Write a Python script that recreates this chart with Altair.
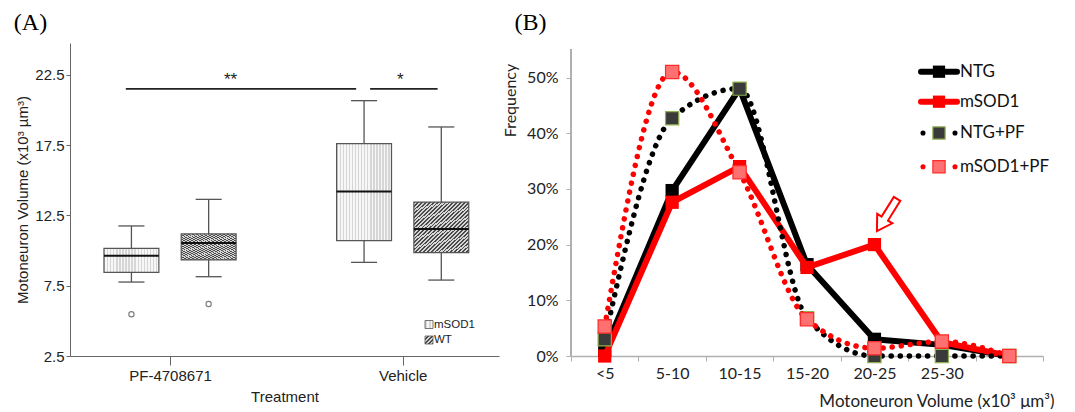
import altair as alt
import pandas as pd

# ---------------- Panel A data (box plot statistics, x10^3 um^3) ----------------
treatments = ["PF-4708671", "PF-4708671", "Vehicle", "Vehicle"]
genotypes = ["mSOD1", "WT", "mSOD1", "WT"]
whisker_low = [7.76, 8.14, 9.16, 7.90]
q1 = [8.45, 9.33, 10.70, 9.85]
median = [9.63, 10.54, 14.20, 11.53]
q3 = [10.16, 11.18, 17.60, 13.45]
whisker_high = [11.75, 13.64, 20.66, 18.79]
outlier_treatment = ["PF-4708671", "PF-4708671"]
outlier_genotype = ["mSOD1", "WT"]
outlier_value = [5.47, 6.20]
sig_labels = ["**", "*"]
sig_start = [0.81, 1.86]
sig_end = [1.80, 2.15]
sig_level = [21.5, 21.5]
sig_label_x = [1.26, 1.99]
sig_label_y = [22.15, 22.15]
a_ticks = [2.5, 7.5, 12.5, 17.5, 22.5]

# ---------------- Panel B data (frequency, %) ----------------
size_bins = ["<5", "5-10", "10-15", "15-20", "20-25", "25-30", ">30"]
ntg = [1.0, 29.7, 48.0, 16.4, 3.0, 2.0, 0.0]
msod1 = [0.0, 27.6, 34.0, 15.9, 20.0, 2.5, 0.0]
ntg_pf = [3.0, 42.7, 48.0, 6.8, 0.0, 0.0, 0.0]
msod1_pf = [5.3, 51.0, 33.0, 6.6, 1.4, 2.6, 0.0]
series_names = ["NTG", "mSOD1", "NTG+PF", "mSOD1+PF"]
b_ticks = [0, 0.1, 0.2, 0.3, 0.4, 0.5]

# ---------------- layout helpers ----------------
treat_pos = {"PF-4708671": 1.0, "Vehicle": 2.0}
geno_off = {"mSOD1": -0.166, "WT": 0.166}
BOX_HALF = 0.118
CAP_HALF = 0.056

A_W, A_H = 429, 313
B_W, B_H = 472, 313


def stripes(c1, c2, n, x2, y2, frac=0.5):
    stops = []
    for i in range(n):
        a, b, c = i / n, (i + frac) / n, (i + 1) / n
        stops += [{"offset": a, "color": c1}, {"offset": b, "color": c1},
                  {"offset": b, "color": c2}, {"offset": c, "color": c2}]
    return {"gradient": "linear", "x1": 0, "y1": 0, "x2": x2, "y2": y2, "stops": stops}


fills = {
    "mSOD1": stripes("#d6d6d6", "#f7f7f7", 18, 1, 0, 0.45),
    "WT": stripes("#4a4a4a", "#d6d6d6", 28, 1, 1, 0.45),
}

box = pd.DataFrame({
    "treatment": treatments, "genotype": genotypes,
    "lo": whisker_low, "q1": q1, "med": median, "q3": q3, "hi": whisker_high,
})
box["xc"] = [treat_pos[t] + geno_off[g] for t, g in zip(box.treatment, box.genotype)]
box["xl"] = box.xc - BOX_HALF
box["xr"] = box.xc + BOX_HALF
box["cl"] = box.xc - CAP_HALF
box["cr"] = box.xc + CAP_HALF

out = pd.DataFrame({"treatment": outlier_treatment, "genotype": outlier_genotype, "v": outlier_value})
out["xc"] = [treat_pos[t] + geno_off[g] for t, g in zip(out.treatment, out.genotype)]

sig = pd.DataFrame({"label": sig_labels, "x1": sig_start, "x2": sig_end, "y": sig_level,
                    "lx": sig_label_x, "ly": sig_label_y})

xdom = [0.570, 2.414]
ydom = [2.5, 2.5 + A_H / 14.06]
xs = alt.Scale(domain=xdom, nice=False, zero=False)
ys = alt.Scale(domain=ydom, nice=False, zero=False)

label_expr = " : ".join(
    [f"datum.value == {treat_pos[t]} ? '{t}'" for t in dict.fromkeys(treatments)][:-1]
) + f" : '{list(dict.fromkeys(treatments))[-1]}'"

FA = "Liberation Sans"
x_axis_a = alt.Axis(values=[1, 2], labelExpr=label_expr, title="Treatment", tickSize=9,
                    labelFont=FA, titleFont=FA, labelFontSize=15, titleFontSize=15,
                    titleFontWeight="normal", labelColor="#222", titleColor="#222",
                    domainColor="#666", tickColor="#666", labelPadding=3, titlePadding=6,
                    grid=False)
y_axis_a = alt.Axis(values=a_ticks, format=".1f", title="Motoneuron Volume (x10³ µm³)", tickSize=4,
                    labelFont=FA, titleFont=FA, labelFontSize=15, titleFontSize=15,
                    titleFontWeight="normal", labelColor="#222", titleColor="#222",
                    domainColor="#666", tickColor="#666", labelPadding=2, titlePadding=4,
                    grid=False)

baseA = alt.Chart(box)
whisk = baseA.mark_rule(color="#555", strokeWidth=1.3).encode(
    x=alt.X("xc:Q", scale=xs, axis=x_axis_a), y=alt.Y("lo:Q", scale=ys, axis=y_axis_a), y2="hi:Q")
cap_hi = baseA.mark_rule(color="#555", strokeWidth=1.3).encode(x="cl:Q", x2="cr:Q", y="hi:Q")
cap_lo = baseA.mark_rule(color="#555", strokeWidth=1.3).encode(x="cl:Q", x2="cr:Q", y="lo:Q")
boxes = [
    baseA.transform_filter(alt.datum.genotype == g).mark_rect(fill=fills[g], stroke="#555", strokeWidth=1.2)
    .encode(x="xl:Q", x2="xr:Q", y="q1:Q", y2="q3:Q")
    for g in ["mSOD1", "WT"]
]
med = baseA.mark_rule(color="#111", strokeWidth=2).encode(x="xl:Q", x2="xr:Q", y="med:Q")
outs = alt.Chart(out).mark_point(shape="circle", size=28, color="#444", strokeWidth=1.1).encode(
    x="xc:Q", y="v:Q")
sig_lines = alt.Chart(sig).mark_rule(color="#222", strokeWidth=1.6).encode(x="x1:Q", x2="x2:Q", y="y:Q")
sig_text = alt.Chart(sig).mark_text(font=FA, fontSize=17, color="#222", baseline="middle").encode(
    x="lx:Q", y="ly:Q", text="label:N")

# panel A legend (pixel positions inside plot area)
legA = pd.DataFrame({"label": ["mSOD1", "WT"], "px": [359, 359], "py": [281.5, 297]})
legA_sq = [
    alt.Chart(legA).transform_filter(alt.datum.label == g).mark_square(size=64, fill=fills[g], stroke="#555",
                                                                         strokeWidth=0.8, opacity=1)
    .encode(x=alt.X("px:Q", scale=None), y=alt.Y("py:Q", scale=None))
    for g in ["mSOD1", "WT"]
]
legA_tx = alt.Chart(legA).mark_text(font=FA, fontSize=11.5, align="left", baseline="middle", color="#222").encode(
    x=alt.X("px:Q", scale=None), y=alt.Y("py:Q", scale=None), text="label:N", xOffset=alt.value(5))

chartA = alt.layer(whisk, cap_hi, cap_lo, *boxes, med, outs, sig_lines, sig_text, *legA_sq, legA_tx).properties(
    width=A_W, height=A_H,
    title=alt.TitleParams("(A)", anchor="start", font="Liberation Serif", fontSize=24,
                          fontWeight="normal", color="#000", offset=8, dx=-2),
)

# ---------------- Panel B ----------------
vals = {"NTG": ntg, "mSOD1": msod1, "NTG+PF": ntg_pf, "mSOD1+PF": msod1_pf}
rows = []
for s in series_names:
    for b, v in zip(size_bins, vals[s]):
        rows.append({"series": s, "bin": b, "freq": v / 100})
freq = pd.DataFrame(rows)

line_col = {"NTG": "#000000", "mSOD1": "#ff0000", "NTG+PF": "#000000", "mSOD1+PF": "#ff0000"}
mk_fill = {"NTG": "#000000", "mSOD1": "#ff0000", "NTG+PF": "#3a3a3a", "mSOD1+PF": "#ff7070"}
mk_stroke = {"NTG": "#000000", "mSOD1": "#ff0000", "NTG+PF": "#8fb04f", "mSOD1+PF": "#ff2a2a"}
dotted = {"NTG": False, "mSOD1": False, "NTG+PF": True, "mSOD1+PF": True}

FB = "Lato"
bxs = alt.Scale(domain=size_bins, paddingInner=0, paddingOuter=0)
bys = alt.Scale(domain=[0, B_H / 557], nice=False, zero=True)
x_axis_b = alt.Axis(title="Motoneuron Volume (x10³ μm³)", tickBand="extent", tickSize=5,
                    labelExpr="datum.value == '>30' ? '' : datum.value", labelAngle=0,
                    labelFont=FB, titleFont=FB, labelFontSize=16, titleFontSize=17,
                    titleFontWeight="normal", labelColor="#222", titleColor="#222",
                    domainColor="#b0b0b0", tickColor="#b0b0b0", domainWidth=1.3, labelPadding=4,
                    titleAlign="right", titleAnchor="end", titleX=B_W + 11, titleY=45,
                    titleBaseline="middle", grid=False)
y_axis_b = alt.Axis(values=b_ticks, format=".0%", title="Frequency", tickSize=5, domain=False,
                    labelFont=FB, titleFont=FB, labelFontSize=16, titleFontSize=16,
                    titleFontWeight="normal", labelColor="#222", titleColor="#222",
                    tickColor="#b0b0b0", labelPadding=8, titlePadding=8,
                    titleY=57, titleAlign="center", grid=False)

layersB = [
    alt.Chart(freq).mark_rule(color="#b0b0b0", strokeWidth=1.3).encode(
        x=alt.value(0), y=alt.datum(0, scale=bys, axis=y_axis_b), y2=alt.datum(0.55))
]
for s in series_names:
    d = alt.Chart(freq).transform_filter(alt.datum.series == s)
    if dotted[s]:
        ln = d.mark_line(color=line_col[s], strokeWidth=5.5, strokeDash=[0.1, 9], strokeCap="round",
                         interpolate="monotone")
    else:
        ln = d.mark_line(color=line_col[s], strokeWidth=6, strokeJoin="miter")
    layersB.append(ln.encode(x=alt.X("bin:N", scale=bxs, axis=x_axis_b, sort=size_bins),
                             y=alt.Y("freq:Q", scale=bys, axis=y_axis_b)))
    layersB.append(d.mark_square(size=175, fill=mk_fill[s], stroke=mk_stroke[s],
                                 strokeWidth=1.2 if dotted[s] else 0, opacity=1).encode(
        x=alt.X("bin:N", scale=bxs, sort=size_bins), y=alt.Y("freq:Q", scale=bys)))

# legend for panel B (pixel positions inside the plot area)
legB = pd.DataFrame({"label": series_names, "py": [28.7, 58.7, 90, 123.7]})
legB["x0"], legB["x1"], legB["xm"], legB["tx"] = 350, 386, 368, 389
for s in series_names:
    d = alt.Chart(legB).transform_filter(alt.datum.label == s)
    if dotted[s]:
        layersB.append(d.mark_circle(size=26, color=line_col[s], opacity=1).encode(
            x=alt.X("x0:Q", scale=None), y=alt.Y("py:Q", scale=None), xOffset=alt.value(2)))
        layersB.append(d.mark_circle(size=26, color=line_col[s], opacity=1).encode(
            x=alt.X("x1:Q", scale=None), y=alt.Y("py:Q", scale=None), xOffset=alt.value(-2)))
    else:
        layersB.append(d.mark_rule(color=line_col[s], strokeWidth=6, strokeCap="round").encode(
            x=alt.X("x0:Q", scale=None), x2="x1:Q", y=alt.Y("py:Q", scale=None)))
    layersB.append(d.mark_square(size=150, fill=mk_fill[s], stroke=mk_stroke[s],
                                 strokeWidth=1.2 if dotted[s] else 0, opacity=1).encode(
        x=alt.X("xm:Q", scale=None), y=alt.Y("py:Q", scale=None)))
layersB.append(alt.Chart(legB).mark_text(font=FB, fontSize=17, align="left", baseline="middle",
                                         color="#111").encode(
    x=alt.X("tx:Q", scale=None), y=alt.Y("py:Q", scale=None), text="label:N"))

# hollow arrow annotation pointing at the mSOD1 20-25 peak
arrow_path = "M-0.2,-1 L0.2,-1 L0.2,0.22 L0.47,0.22 L0,1 L-0.47,0.22 L-0.2,0.22 Z"
arrow = pd.DataFrame({"px": [316], "py": [172]})
layersB.append(alt.Chart(arrow).mark_point(shape=arrow_path, size=1444, angle=32, filled=True,
                                           fill="#ffffff", stroke="#ff0000", strokeWidth=2, opacity=1)
               .encode(x=alt.X("px:Q", scale=None), y=alt.Y("py:Q", scale=None)))

chartB = alt.layer(*layersB).properties(
    width=B_W, height=B_H,
    title=alt.TitleParams("(B)", anchor="start", font="Liberation Serif", fontSize=24,
                          fontWeight="normal", color="#000", offset=8, dx=12),
)

chart = alt.hconcat(chartA, chartB, spacing=3).configure(
    padding={"left": 5, "top": 3, "right": 0, "bottom": 0}
).configure_view(stroke=None)

chart.save("out.html", embed_options={"renderer": "svg", "actions": False})
